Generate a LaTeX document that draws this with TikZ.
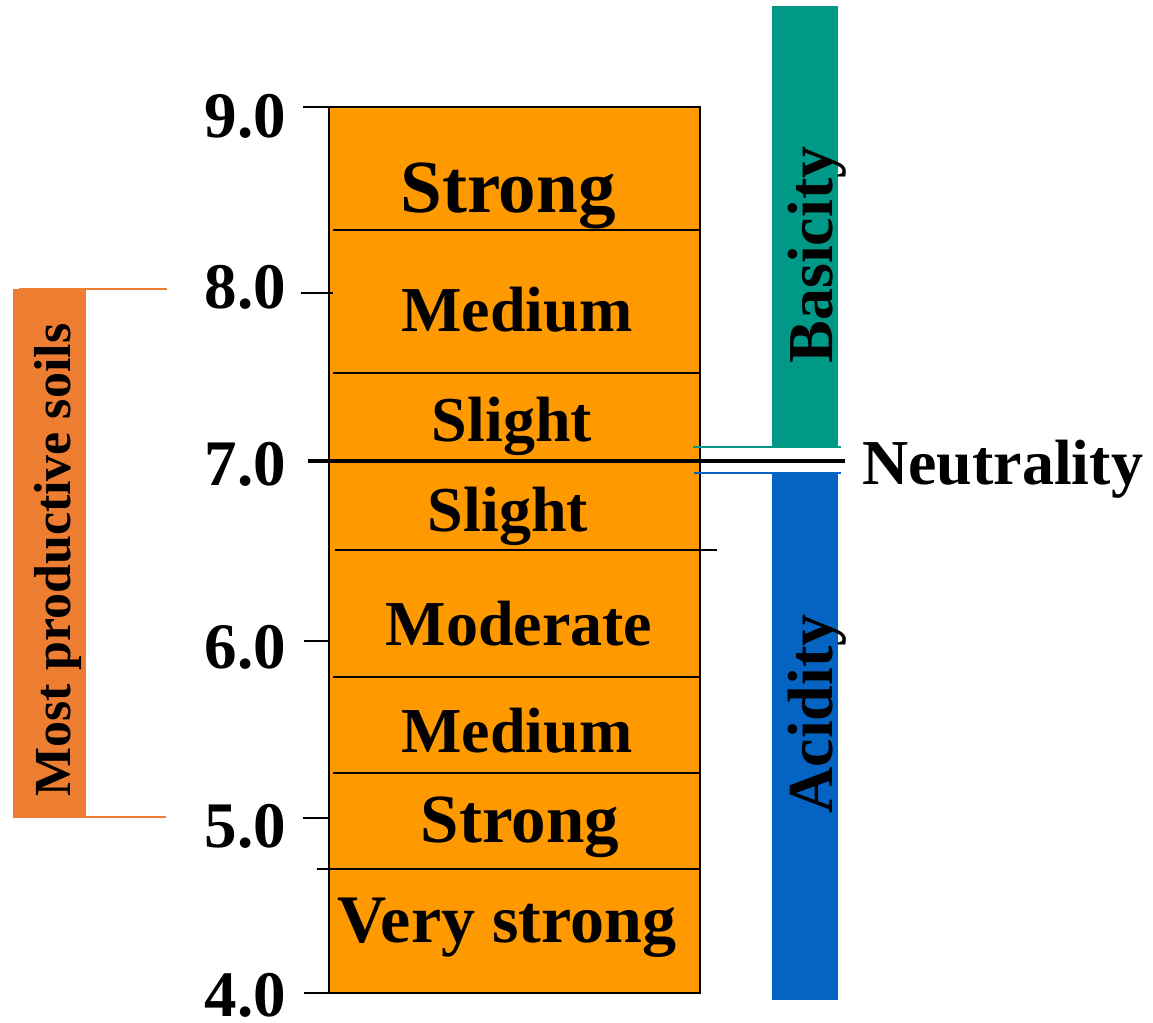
\documentclass[tikz,border=0pt]{standalone}
\usepackage{fontspec}
\setmainfont{Liberation Serif}
\definecolor{scaleorange}{RGB}{255,153,0}
\definecolor{soilorange}{RGB}{237,125,49}
\definecolor{baseteal}{RGB}{0,152,135}
\definecolor{acidblue}{RGB}{5,99,193}
\begin{document}
\begin{tikzpicture}[x=1pt,y=-1pt,
  band/.style={font=\fontsize{64}{64}\selectfont\bfseries, anchor=base, inner sep=0pt},
  phval/.style={font=\fontsize{65}{65}\selectfont\bfseries, anchor=base east, inner sep=0pt},
  tick/.style={line width=2.2pt},
  divider/.style={line width=1.8pt}]
\useasboundingbox (0,0) rectangle (1153,1022);

% pH scale column
\fill[scaleorange] (329,107) rectangle (700,993);
\draw[line width=2.4pt] (329,107) rectangle (700,993);

% band dividers
\draw[divider] (333,230) -- (700,230);
\draw[divider] (333,373) -- (700,373);
\draw[divider] (335,550) -- (717,550);
\draw[divider] (333,677) -- (700,677);
\draw[divider] (333,773) -- (700,773);
\draw[divider] (317,869) -- (700,869);

% axis ticks
\draw[tick] (303,107) -- (329,107);
\draw[tick] (301,293) -- (333,293);
\draw[tick] (304,641) -- (329,641);
\draw[tick] (303,818) -- (329,818);
\draw[tick] (304,993) -- (329,993);

% pH values
\node[phval] (p9) at (286,137) {9.0};
\node[phval] (p8) at (286,308) {8.0};
\node[phval] (p7) at (286,485) {7.0};
\node[phval] (p6) at (286,668) {6.0};
\node[phval] (p5) at (286,847) {5.0};
\node[phval] (p4) at (286,1016) {4.0};

% band labels
\node[band, font=\fontsize{75}{75}\selectfont\bfseries] (b1) at (508,212) {Strong};
\node[band] (b2) at (517,331) {Medium};
\node[band] (b3) at (512,441) {Slight};
\node[band] (b4) at (508,531) {Slight};
\node[band] (b5) at (519,645) {Moderate};
\node[band] (b6) at (517,752) {Medium};
\node[band, font=\fontsize{69}{69}\selectfont\bfseries] (b7) at (520,842) {Strong};
\node[band, font=\fontsize{68}{68}\selectfont\bfseries] (b8) at (507,942) {Very strong};

% basicity / acidity bars
\fill[baseteal] (772,6) rectangle (838,448);
\fill[acidblue] (772,473) rectangle (838,1000);
\draw[baseteal, line width=2pt] (693,447) -- (841,447);
\draw[acidblue, line width=2pt] (694,473) -- (841,473);
\node[band, rotate=90] (basic) at (832,255) {Basicity};
\node[band, rotate=90] (acid) at (832,714) {Acidity};

% neutrality line
\draw[line width=4pt] (308,461) -- (845,461);
\node[band, anchor=base west] (neutral) at (862,484) {Neutrality};

% most productive range
\fill[soilorange] (13,289) rectangle (86,818);
\draw[soilorange, line width=2pt] (19,289) -- (167,289);
\draw[soilorange, line width=2pt] (19,817) -- (166,817);
\node[band, rotate=90, font=\fontsize{52}{52}\selectfont\bfseries] (soils) at (70,560) {Most productive soils};
\end{tikzpicture}
\end{document}
